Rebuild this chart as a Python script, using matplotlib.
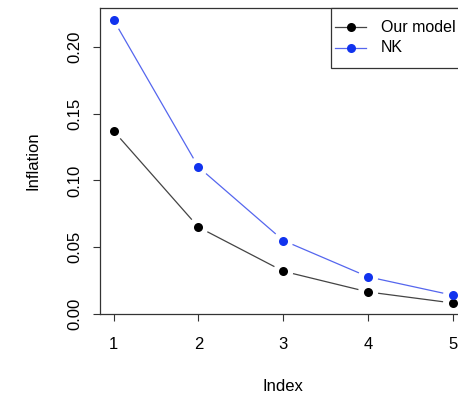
import numpy as np
import matplotlib
matplotlib.use("Agg")
import matplotlib.pyplot as plt
from matplotlib.lines import Line2D
from matplotlib.patches import Rectangle

plt.rcParams["font.family"] = ["Liberation Sans", "DejaVu Sans"]

# values
index = [1, 2, 3, 4, 5]
our_model = [0.137, 0.065, 0.032, 0.0165, 0.0082]
nk = [0.220, 0.110, 0.055, 0.0278, 0.014]
y_ticks = [0.00, 0.05, 0.10, 0.15, 0.20]
y_tick_labels = ["0.00", "0.05", "0.10", "0.15", "0.20"]
legend_labels = ["Our model", "NK"]

W, H = 458, 400
fig = plt.figure(figsize=(W / 100, H / 100), dpi=100)
# plot box spans past the right edge (reference is cropped there)
ax_w = 366.6
ax = fig.add_axes([100 / W, 86 / H, ax_w / W, 306 / H])
ax.set_xlim(0.84, 5.16)
ax.set_ylim(0, 0.229)

fs = 12
ms = 6.5
black = "black"
blue = "#1133ee"


def gapped_line(ax, x, y, color, gap=10, lw=0.9):
    # R type="b": lines stop short of each point
    pts = ax.transData.transform(np.column_stack([x, y]))
    inv = ax.transData.inverted()
    for p0, p1 in zip(pts[:-1], pts[1:]):
        d = p1 - p0
        L = np.hypot(*d)
        if L <= 2 * gap:
            continue
        u = d / L
        seg = inv.transform(np.array([p0 + u * gap, p1 - u * gap]))
        ax.plot(seg[:, 0], seg[:, 1], color=color, lw=lw, solid_capstyle="butt")


gapped_line(ax, index, our_model, "#444444")
ax.plot(index, our_model, "o", color=black, markersize=ms, markeredgewidth=0,
        linestyle="none")
gapped_line(ax, index, nk, "#5566ee")
ax.plot(index, nk, "o", color=blue, markersize=ms, markeredgewidth=0,
        linestyle="none")

for s in ax.spines.values():
    s.set_linewidth(0.9)
    s.set_color("#333333")

ax.set_xticks(index)
ax.set_xticklabels([str(i) for i in index], fontsize=fs)
ax.set_yticks(y_ticks)
ax.set_yticklabels(y_tick_labels, fontsize=fs, rotation=90, va="center")
ax.tick_params(axis="both", direction="out", length=5, width=0.8, color="#333333")
ax.tick_params(axis="x", pad=11.5)
ax.tick_params(axis="y", pad=8)

ax.set_xlabel("Index", fontsize=fs, labelpad=19.5)
ax.set_ylabel("Inflation", fontsize=fs, labelpad=19)


# legend drawn by hand (R-style box, top-right, running off the crop)
def fx(px):
    return px / W


def fy(py):
    return 1 - py / H


fig.patches.append(Rectangle((fx(331), fy(68)), fx(470) - fx(331), fy(8) - fy(68),
                             transform=fig.transFigure, facecolor="white",
                             edgecolor="#333333", linewidth=0.9, zorder=5))
for row, (label, col, lcol) in enumerate(zip(legend_labels, [black, blue],
                                             ["#444444", "#5566ee"])):
    yy = fy(27 + 21 * row)
    fig.lines.append(Line2D([fx(335), fx(366)], [yy, yy], color=lcol, lw=0.9,
                            transform=fig.transFigure, zorder=6))
    fig.lines.append(Line2D([fx(350.5)], [yy], color=col, marker="o", markersize=ms,
                            markeredgewidth=0, linestyle="none",
                            transform=fig.transFigure, zorder=7))
    fig.text(fx(381), yy, label, fontsize=11.5, va="center", ha="left", zorder=8)

fig.savefig("out.png", dpi=100, facecolor="white")
